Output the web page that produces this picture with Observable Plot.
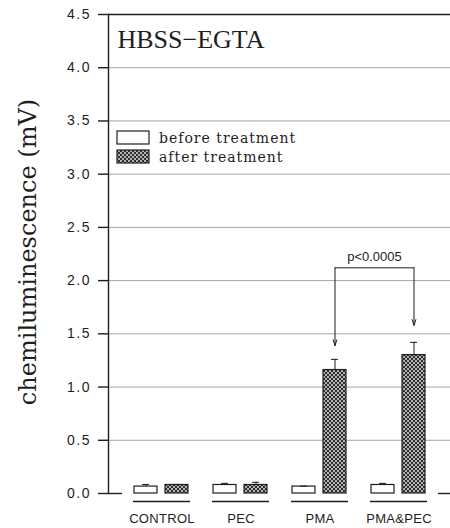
<!DOCTYPE html>
<html><head><meta charset="utf-8">
<script src="https://cdn.jsdelivr.net/npm/d3@7"></script>
<script src="https://cdn.jsdelivr.net/npm/@observablehq/plot@0.6"></script>
<style>
body{margin:0;background:#fff;}
#chart{position:relative;width:450px;height:528px;overflow:hidden;}
</style></head><body><div id="chart"></div>
<script>
const groups = ["CONTROL", "PEC", "PMA", "PMA&PEC"];
const beforeValues = [0.065, 0.08, 0.065, 0.08];
const beforeErrors = [0.02, 0.015, 0.005, 0.015];
const afterValues = [0.08, 0.08, 1.16, 1.30];
const afterErrors = [0.005, 0.025, 0.10, 0.12];
const yTicks = [0, 0.5, 1.0, 1.5, 2.0, 2.5, 3.0, 3.5, 4.0, 4.5];
const seriesLabels = ["before treatment", "after treatment"];
const chartTitle = "HBSS\u2212EGTA";
const yLabel = "chemiluminescence (mV)";
const pLabel = "p<0.0005";
const compareGroups = ["PMA", "PMA&PEC"];
const arrowTips = [1.39, 1.58];
const bracketLevel = 2.12;
const pLabelLevel = 2.22;

const rows = groups.flatMap((g, i) => [
  {group: g, series: "before", value: beforeValues[i], err: beforeErrors[i]},
  {group: g, series: "after", value: afterValues[i], err: afterErrors[i]}
]);
const before = rows.filter(d => d.series === "before");
const after = rows.filter(d => d.series === "after");
const arrows = compareGroups.map((g, i) => ({group: g, top: bracketLevel, tip: arrowTips[i]}));
const bracket = compareGroups.map(g => ({group: g, y: bracketLevel}));

const dxB = -16, dxA = 15;
const ink = "#1e1e1e";

const chart = Plot.plot({
  width: 450, height: 528,
  marginLeft: 108, marginRight: 0, marginTop: 14, marginBottom: 35,
  style: {background: "transparent", fontFamily: "'Liberation Sans', Arial, sans-serif", fontSize: "13px", color: ink},
  x: {domain: groups, range: [122, 438], paddingInner: 0.709, paddingOuter: 0.3545, align: 0.5},
  y: {domain: [0, 4.5]},
  marks: [
    Plot.ruleY(yTicks.filter(t => t > 0 && t < 4.5), {stroke: "#9a9a9a", strokeWidth: 0.9}),
    Plot.ruleY([4.5], {stroke: ink, strokeWidth: 1.4}),
    Plot.ruleY([0], {stroke: ink, strokeWidth: 1.4, insetRight: 328}),
    Plot.ruleY([0], {stroke: ink, strokeWidth: 1.4, insetLeft: 330}),
    Plot.frame({anchor: "left", stroke: ink, strokeWidth: 1.4}),
    Plot.axisY({ticks: yTicks, tickSize: 10, tickPadding: 7.5, tickFormat: d => d.toFixed(1), label: null, fontSize: 14, stroke: ink, strokeWidth: 1.4}),
    Plot.axisX({tickSize: 0, tickPadding: 20, label: null, fontSize: 13}),
    Plot.tickY(groups, {x: d => d, y: () => 0, dy: 8, insetLeft: -17, insetRight: -17, stroke: ink, strokeWidth: 1.4}),
    Plot.barY(before, {x: "group", y: "value", dx: dxB, fill: "white", stroke: ink, strokeWidth: 1.2}),
    Plot.barY(after, {x: "group", y: "value", dx: dxA, fill: "url(#chk)", stroke: ink, strokeWidth: 1.2}),
    Plot.ruleX(before, {x: "group", y1: "value", y2: d => d.value + d.err, dx: dxB, stroke: ink, strokeWidth: 1}),
    Plot.tickY(before, {x: "group", y: d => d.value + d.err, dx: dxB, insetLeft: 8, insetRight: 8, stroke: ink, strokeWidth: 1}),
    Plot.ruleX(after, {x: "group", y1: "value", y2: d => d.value + d.err, dx: dxA, stroke: ink, strokeWidth: 1}),
    Plot.tickY(after, {x: "group", y: d => d.value + d.err, dx: dxA, insetLeft: 8, insetRight: 8, stroke: ink, strokeWidth: 1}),
    Plot.line(bracket, {x: "group", y: "y", dx: dxA, stroke: ink, strokeWidth: 1}),
    Plot.arrow(arrows, {x1: "group", x2: "group", y1: "top", y2: "tip", dx: dxA, stroke: ink, strokeWidth: 1, headLength: 9, headAngle: 36}),
    Plot.text([pLabel], {text: d => d, x: () => compareGroups[0], y: () => pLabelLevel, dx: dxA + 39.5, fontSize: 13, fill: ink, fontFamily: "'Liberation Sans', Arial, sans-serif"}),
    Plot.text([chartTitle], {text: d => d, frameAnchor: "top-left", dx: 9, dy: 15, textAnchor: "start", lineAnchor: "top", fontFamily: "'Liberation Serif', 'Times New Roman', serif", fontSize: 26, fill: ink}),
    Plot.text([yLabel], {text: d => d, frameAnchor: "left", dx: -80, dy: -2, textAnchor: "middle", rotate: -90, fontFamily: "'DejaVu Serif', serif", fontSize: 24, fill: ink})
  ]
});

const svg = d3.select(chart);
svg.selectAll('g[aria-label="y-axis tick label"] text').style("letter-spacing", "1.5px");
svg.selectAll('g[aria-label="x-axis tick label"] text').style("letter-spacing", "0.3px");

const defs = svg.insert("defs", ":first-child");
const pat = defs.append("pattern").attr("id", "chk").attr("patternUnits", "userSpaceOnUse").attr("width", 4).attr("height", 4);
pat.append("rect").attr("width", 4).attr("height", 4).attr("fill", "#2e2e2e");
pat.append("circle").attr("cx", 1).attr("cy", 1).attr("r", 0.9).attr("fill", "#f2f2f2");
pat.append("circle").attr("cx", 3).attr("cy", 3).attr("r", 0.9).attr("fill", "#f2f2f2");

const legend = svg.append("g").attr("class", "legend");
const fills = ["white", "url(#chk)"];
seriesLabels.forEach((lab, i) => {
  const y0 = 131 + i * 19;
  legend.append("rect").attr("x", 117).attr("y", y0).attr("width", 32).attr("height", 13)
    .attr("fill", fills[i]).attr("stroke", ink).attr("stroke-width", 1.2);
  legend.append("text").attr("x", 159).attr("y", y0 + 12).text(lab)
    .attr("text-anchor", "start")
    .style("letter-spacing", "1px")
    .attr("font-family", "'DejaVu Serif', serif").attr("font-size", 14).attr("fill", ink);
});

document.getElementById("chart").appendChild(chart);
</script>
</body></html>
